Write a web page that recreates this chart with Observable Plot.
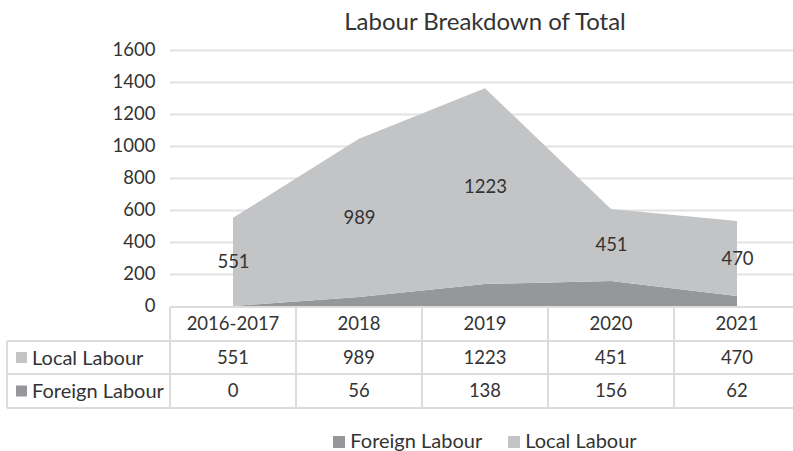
<!DOCTYPE html>
<html>
<head>
<meta charset="utf-8">
<script src="https://cdn.jsdelivr.net/npm/d3@7"></script>
<script src="https://cdn.jsdelivr.net/npm/@observablehq/plot@0.6"></script>
<style>
  html, body { margin: 0; padding: 0; background: #fff; overflow: hidden; }
  #wrap { width: 800px; font-family: Lato, "Open Sans", sans-serif; color: #333; }
  #title { height: 40px; line-height: 42px; padding-left: 170px; width: 630px; text-align: center; font-size: 24px; }
  #legend { padding-left: 170px; width: 630px; display: flex; justify-content: center; align-items: center; gap: 26px; font-size: 20px; padding-top: 17px; line-height: 22px; }
  #legend span.sw { display: inline-block; width: 12px; height: 12px; margin-right: 5px; vertical-align: 0px; }
  svg { display: block; }
</style>
</head>
<body>
<div id="wrap">
  <div id="title">Labour Breakdown of Total</div>
  <div id="chart"></div>
  <div id="legend"></div>
</div>
<script>
const years = ["2016-2017", "2018", "2019", "2020", "2021"];
const localLabour = [551, 989, 1223, 451, 470];
const foreignLabour = [0, 56, 138, 156, 62];
const yTicks = [0, 200, 400, 600, 800, 1000, 1200, 1400, 1600];
const seriesNames = ["Foreign Labour", "Local Labour"];
const seriesColors = ["#96979b", "#c3c4c6"];

const data = [];
years.forEach((yr, i) => {
  data.push({year: yr, series: "Foreign Labour", value: foreignLabour[i]});
  data.push({year: yr, series: "Local Labour", value: localLabour[i]});
});

const FONT = "Lato, 'Open Sans', sans-serif";
const plot = Plot.plot({
  width: 800,
  height: 372,
  marginTop: 10,
  marginLeft: 170,
  marginRight: 0,
  marginBottom: 106,
  style: {fontFamily: FONT, fontSize: "18.5px", color: "#333", background: "transparent", overflow: "visible"},
  x: {type: "point", domain: years, padding: 0.5, axis: null},
  y: {domain: [0, 1600], ticks: yTicks, tickSize: 0, tickPadding: 15, label: null, tickFormat: d => String(d)},
  color: {domain: seriesNames, range: seriesColors},
  marks: [
    Plot.ruleY(yTicks.filter(t => t > 0), {stroke: "#e3e3e3", strokeWidth: 2}),
    Plot.areaY(data, {x: "year", y: "value", z: "series", fill: "series", order: seriesNames, curve: "linear"}),
    Plot.text(data, Plot.stackY({
      x: "year", y: "value", z: "series", order: seriesNames,
      text: d => d.series === "Local Labour" ? String(d.value) : null,
      fill: "#333", fontSize: 18.5
    }))
  ]
});
document.getElementById("chart").appendChild(plot);

// Data table below the plot, aligned to the plot's own x scale
const xs = plot.scale("x");
const ys = plot.scale("y");
const step = xs.apply(years[1]) - xs.apply(years[0]);
const y0 = ys.apply(0);
const left = xs.apply(years[0]) - step / 2;
const right = xs.apply(years[years.length - 1]) + step / 2;
const tableLeft = 7;
const rowTops = [y0 + 1, y0 + 35, y0 + 68, y0 + 102];
const svg = d3.select(plot);
const g = svg.append("g").attr("stroke", "#dcdcdc").attr("stroke-width", 2);
g.append("line").attr("x1", left).attr("x2", right).attr("y1", rowTops[0]).attr("y2", rowTops[0]);
for (let r = 1; r < rowTops.length; r++) {
  g.append("line").attr("x1", tableLeft).attr("x2", right).attr("y1", rowTops[r]).attr("y2", rowTops[r]);
}
g.append("line").attr("x1", tableLeft).attr("x2", tableLeft).attr("y1", rowTops[1]).attr("y2", rowTops[3]);
for (let i = 0; i <= years.length; i++) {
  const xv = left + i * step;
  g.append("line").attr("x1", xv).attr("x2", xv).attr("y1", rowTops[0]).attr("y2", rowTops[3]);
}
const tg = svg.append("g").attr("font-family", FONT).attr("fill", "#333");
const rows = [
  {label: null, values: years},
  {label: "Local Labour", color: seriesColors[1], values: localLabour},
  {label: "Foreign Labour", color: seriesColors[0], values: foreignLabour}
];
rows.forEach((row, r) => {
  const cy = (rowTops[r] + rowTops[r + 1]) / 2;
  row.values.forEach((v, i) => {
    tg.append("text").attr("x", xs.apply(years[i])).attr("y", cy).attr("dy", "0.35em")
      .attr("font-size", 18.5).attr("text-anchor", "middle").text(String(v));
  });
  if (row.label) {
    svg.append("rect").attr("x", 16).attr("y", cy - 5.5).attr("width", 11).attr("height", 11).attr("fill", row.color);
    tg.append("text").attr("x", 32).attr("y", cy).attr("dy", "0.35em")
      .attr("font-size", 20).attr("text-anchor", "start").text(row.label);
  }
});

// Legend
const legend = document.getElementById("legend");
seriesNames.forEach((s, i) => {
  const item = document.createElement("div");
  item.innerHTML = `<span class="sw" style="background:${seriesColors[i]}"></span>${s}`;
  legend.appendChild(item);
});
</script>
</body>
</html>
